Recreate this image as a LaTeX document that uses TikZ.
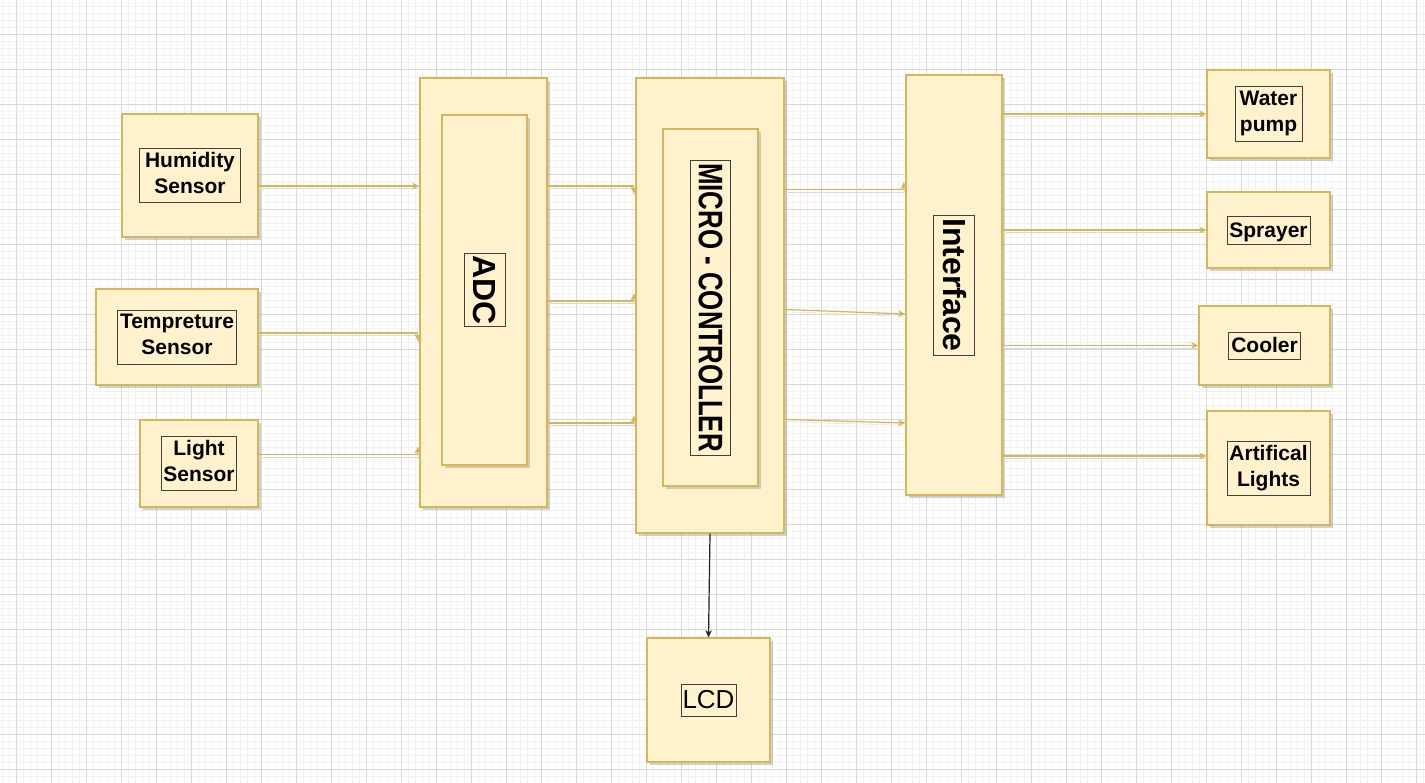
\documentclass[tikz,border=0pt]{standalone}
\usepackage{fontspec}
\setmainfont{Liberation Sans}
\usepackage{graphicx}
\usetikzlibrary{arrows.meta,calc,shadows}
\definecolor{boxfill}{HTML}{FFF2CC}
\definecolor{boxline}{HTML}{D6B656}
\definecolor{gridmajor}{HTML}{D9D9D9}
\definecolor{gridminor}{HTML}{F2F2F2}
\newcommand\lstrut{\vrule width 0pt height .9em depth .22em}
\newcommand\tagfont{\fontsize{21pt}{26pt}\selectfont\bfseries}
\newcommand\bigtagfont{\fontsize{32pt}{38pt}\selectfont\bfseries}
\newcommand\lcdfont{\fontsize{26pt}{31pt}\selectfont}
\tikzset{box/.style={draw=boxline, fill=boxfill, line width=1.3pt, inner sep=0pt, drop shadow={shadow xshift=3pt, shadow yshift=-3pt, opacity=0.35}}}
\tikzset{tag/.style={draw=black!75, line width=0.8pt, inner sep=1pt, align=center, font=\tagfont, execute at begin node=\lstrut, execute at end node=\lstrut}}
\tikzset{vtag/.style={tag, rotate=-90, font=\bigtagfont}}
\tikzset{line/.style={draw=boxline, line width=1.2pt, -{Stealth[length=7pt, width=6.5pt, inset=2pt]}, preaction={draw=black!15, -, transform canvas={shift={(0.5pt,-2.3pt)}}}}}
\tikzset{minorgrid/.style={draw=gridminor, line width=0.7pt}}
\tikzset{majorgrid/.style={draw=gridmajor, line width=1pt}}

\begin{document}
\begin{tikzpicture}[x=1pt, y=-1pt]
    \useasboundingbox (0,0) rectangle (1425,783);
    \fill[white] (0,0) rectangle (1425,783);

    % grid paper
    \foreach \gx in {2.7,9.7,...,1425} \draw[minorgrid] (\gx,0) -- (\gx,783);
    \foreach \gy in {6.3,13.3,...,783} \draw[minorgrid] (0,\gy) -- (1425,\gy);
    \foreach \gx in {16.7,51.7,...,1425} \draw[majorgrid] (\gx,0) -- (\gx,783);
    \foreach \gy in {34.3,69.3,...,783} \draw[majorgrid] (0,\gy) -- (1425,\gy);

    % sensors
    \node [box, minimum width=136pt, minimum height=123pt, label={[tag, minimum width=101pt, minimum height=54pt]center:Humidity\\Sensor}] (hum) at (190,175.5) {};
    \node [box, minimum width=162pt, minimum height=96pt, label={[tag, minimum width=119pt, minimum height=54pt]center:Tempreture\\Sensor}] (temp) at (177,337) {};
    \node [box, minimum width=118pt, minimum height=87pt, label={[tag, minimum width=75pt, minimum height=54pt]center:Light\\Sensor}] (light) at (199,463.5) {};

    % converter and controller
    \node [box, minimum width=127pt, minimum height=429pt] (adc) at (483.5,292.5) {};
    \node [box, minimum width=85pt, minimum height=350pt, label={[vtag, minimum width=73pt, minimum height=41pt]center:ADC}] (adccore) at (484.5,290) {};
    \node [box, minimum width=148pt, minimum height=455pt] (mcu) at (710,305.5) {};
    \node [box, minimum width=95pt, minimum height=357pt, label={[vtag, minimum width=295pt, minimum height=33pt, font=\fontsize{34pt}{40pt}\selectfont\bfseries]center:\scalebox{0.76}[1]{MICRO - CONTROLLER}}] (mcucore) at (710.5,307.5) {};
    \node [box, minimum width=96pt, minimum height=420pt, label={[vtag, minimum width=140pt, minimum height=41pt]center:Interface}] (iface) at (954,285) {};

    % outputs
    \node [box, minimum width=123pt, minimum height=88pt, label={[tag, minimum width=67pt, minimum height=55pt]center:Water\\pump}] (water) at (1268.5,114) {};
    \node [box, minimum width=123pt, minimum height=76pt, label={[tag, minimum width=83pt, minimum height=28pt]center:Sprayer}] (spray) at (1268.5,230) {};
    \node [box, minimum width=131pt, minimum height=79pt, label={[tag, minimum width=72pt, minimum height=27pt]center:Cooler}] (cooler) at (1264.5,345.5) {};
    \node [box, minimum width=123pt, minimum height=114pt, label={[tag, minimum width=83pt, minimum height=54pt]center:Artifical\\Lights}] (art) at (1268.5,468) {};
    \node [box, minimum width=123pt, minimum height=124pt, label={[tag, minimum width=55pt, minimum height=32pt, font=\lcdfont]center:LCD}] (lcd) at (708.5,700) {};

    % sensors to ADC
    \path [line] ($(hum.east)+(0,10.5)$) -- ($(hum.east -| adc.west)+(0,10.5)$);
    \path [line] ($(temp.east)+(0,-4)$) -| ($(temp.east -| adc.west)+(-1.5,4)$);
    \path [line] ($(light.east)+(0,-9)$) -| ($(light.east -| adc.west)+(-1.5,-17)$);

    % ADC to controller
    \path [line] ($(adc.east)+(0,-106.5)$) -| ($(adc.east -| mcu.west)+(-1.5,-99)$);
    \path [line] ($(adc.east)+(0,8.5)$) -| ($(adc.east -| mcu.west)+(-1.5,1)$);
    \path [line] ($(adc.east)+(0,130.5)$) -| ($(adc.east -| mcu.west)+(-1.5,123)$);

    % controller to interface
    \path [line] ($(mcu.east)+(0,-116)$) -| ($(mcu.east -| iface.west)+(-1.5,-123.5)$);
    \path [line] ($(mcu.east)+(0,4)$) -- ($(iface.west)+(0,29)$);
    \path [line] ($(mcu.east)+(0,114)$) -- ($(iface.west)+(0,138)$);

    % interface to outputs
    \path [line] (iface.east |- water.west) -- (water.west);
    \path [line] (iface.east |- spray.west) -- (spray.west);
    \path [line] (iface.east |- cooler.west) -- (cooler.west);
    \path [line] ($(iface.east |- art.west)+(0,-12)$) -- ($(art.west)+(0,-12)$);

    \path [line, draw=black!85] (mcu.south) -- (lcd.north);
\end{tikzpicture}
\end{document}
